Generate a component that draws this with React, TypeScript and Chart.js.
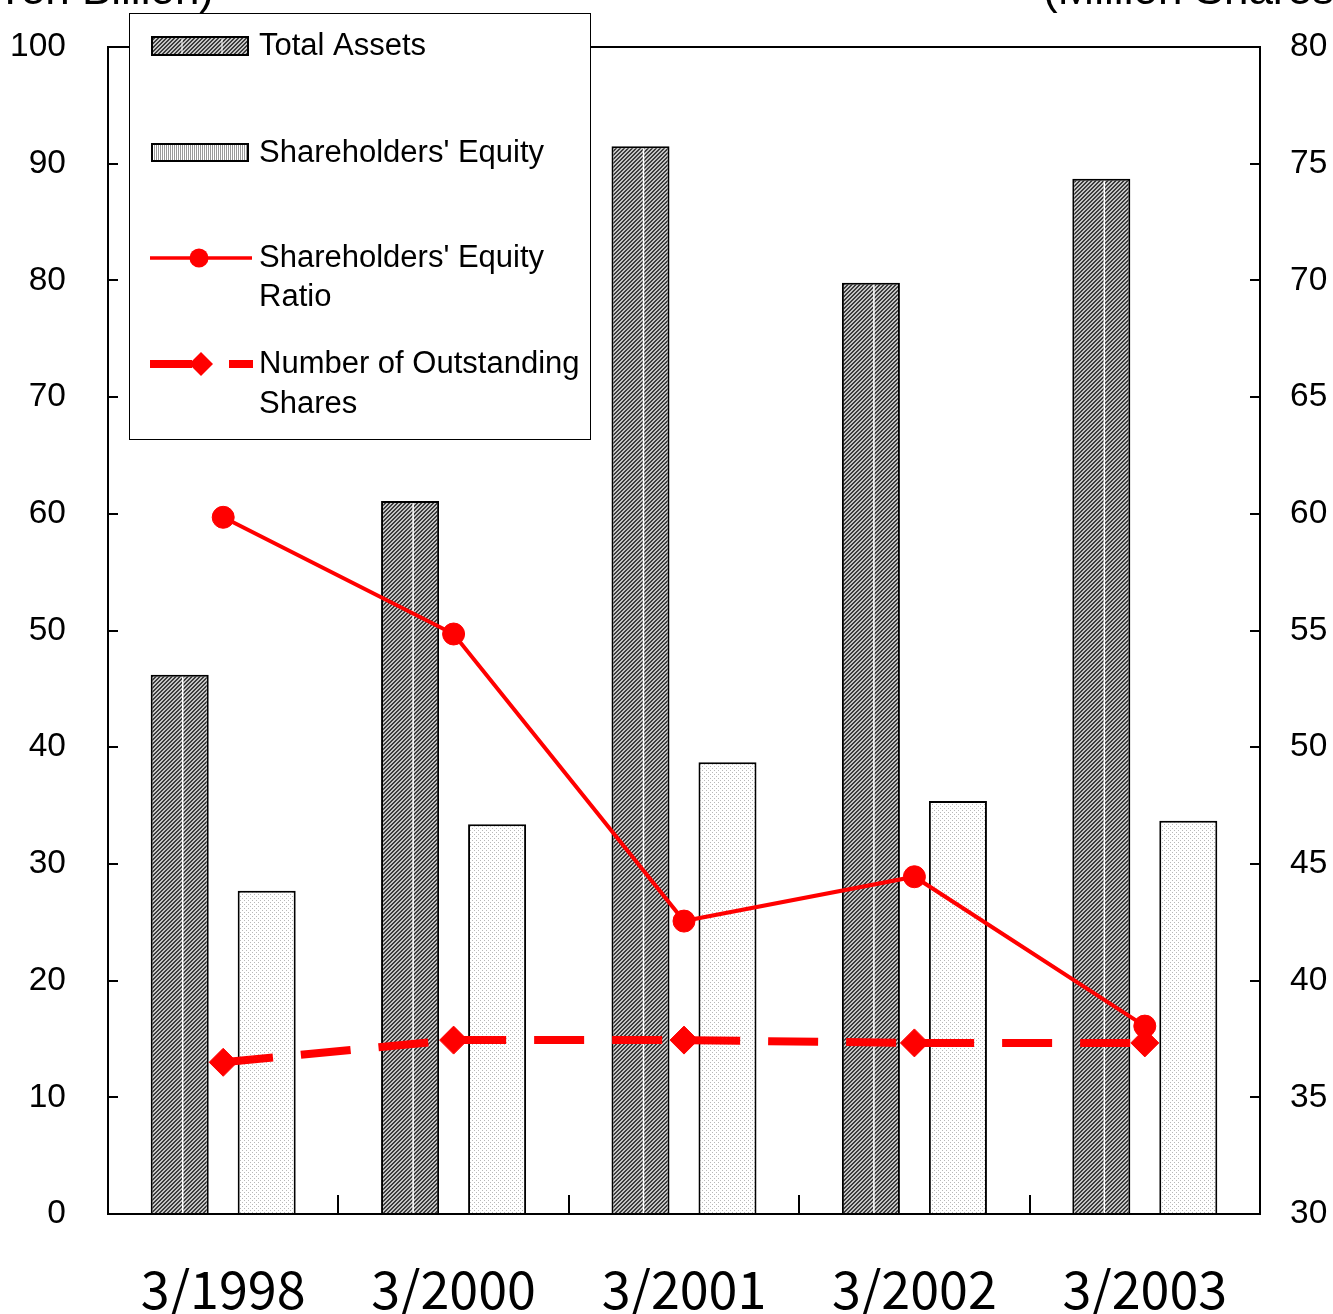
import React, { useEffect, useRef } from "react";
import { Chart, registerables } from "chart.js";

Chart.register(...registerables);

const categories = ["3/1998", "3/2000", "3/2001", "3/2002", "3/2003"];
const totalAssets = [46.2, 61.1, 91.5, 79.8, 88.7];
const shareholdersEquity = [27.7, 33.4, 38.7, 35.4, 33.7];
const equityRatio = [59.7, 49.7, 25.1, 28.9, 16.1];
const outstandingShares = [36.5, 37.45, 37.45, 37.33, 37.33];

const leftAxis = { min: 0, max: 100, step: 10 };
const rightAxis = { min: 30, max: 80, step: 5 };

const leftTitle = "(Yen Billion)";
const rightTitle = "(Million Shares)";
const legendLabels = {
  assets: ["Total Assets"],
  equity: ["Shareholders' Equity"],
  ratio: ["Shareholders' Equity", "Ratio"],
  shares: ["Number of Outstanding", "Shares"],
};

const TEXT_FONT = "'Liberation Sans', Arial, sans-serif";

function makePattern(size: number, draw: (c: CanvasRenderingContext2D) => void): CanvasPattern {
  const cv = document.createElement("canvas");
  cv.width = size;
  cv.height = size;
  const c = cv.getContext("2d")!;
  draw(c);
  const ctx = document.createElement("canvas").getContext("2d")!;
  return ctx.createPattern(cv, "repeat")!;
}

export default function App() {
  const ref = useRef<HTMLCanvasElement | null>(null);

  useEffect(() => {
    document.body.style.margin = "0";
    const canvas = ref.current;
    if (!canvas) return;

    const assetsPattern = makePattern(4, (c) => {
      c.fillStyle = "#c4c4c4";
      c.fillRect(0, 0, 4, 4);
      c.fillStyle = "#3c3c3c";
      for (let x = 0; x < 4; x++) {
        for (let y = 0; y < 4; y++) {
          const s = (x + y) % 4;
          if (s === 3 || s === 0) c.fillRect(x, y, 1, 1);
        }
      }
    });
    const equityPattern = makePattern(4, (c) => {
      c.fillStyle = "#ffffff";
      c.fillRect(0, 0, 4, 4);
      c.fillStyle = "#b8b8b8";
      c.fillRect(0, 0, 1, 1);
      c.fillRect(2, 2, 1, 1);
    });
    const stripePattern = makePattern(4, (c) => {
      c.fillStyle = "#ffffff";
      c.fillRect(0, 0, 4, 4);
      c.fillStyle = "#9a9a9a";
      c.fillRect(0, 0, 1, 4);
      c.fillRect(2, 0, 1, 4);
    });

    const framePlugin = {
      id: "framePlugin",
      afterDatasetDraw(chart: any, args: any) {
        if (args.index !== 0) return;
        const ctx = chart.ctx as CanvasRenderingContext2D;
        const meta = chart.getDatasetMeta(0);
        ctx.save();
        ctx.strokeStyle = "#ffffff";
        ctx.lineWidth = 1.5;
        meta.data.forEach((bar: any) => {
          const p = bar.getProps(["x", "y", "base"], true);
          ctx.beginPath();
          ctx.moveTo(p.x + 3, p.y + 2);
          ctx.lineTo(p.x + 3, p.base);
          ctx.stroke();
        });
        ctx.restore();
      },
      afterDraw(chart: any) {
        const ctx = chart.ctx as CanvasRenderingContext2D;
        const a = chart.chartArea;
        const yL = chart.scales.y;
        const yR = chart.scales.y1;
        const xS = chart.scales.x;
        ctx.save();
        // plot frame
        ctx.strokeStyle = "#000";
        ctx.lineWidth = 2;
        ctx.strokeRect(a.left, a.top, a.right - a.left, a.bottom - a.top);
        // ticks (inside)
        ctx.beginPath();
        for (let v = leftAxis.min; v <= leftAxis.max; v += leftAxis.step) {
          const py = Math.round(yL.getPixelForValue(v));
          ctx.moveTo(a.left, py);
          ctx.lineTo(a.left + 10, py);
        }
        for (let v = rightAxis.min; v <= rightAxis.max; v += rightAxis.step) {
          const py = Math.round(yR.getPixelForValue(v));
          ctx.moveTo(a.right, py);
          ctx.lineTo(a.right - 10, py);
        }
        const cw = (a.right - a.left) / categories.length;
        for (let i = 0; i < categories.length - 1; i++) {
          const px = Math.round(xS.getPixelForValue(i) + cw / 2);
          ctx.moveTo(px, a.bottom);
          ctx.lineTo(px, a.bottom - 19);
        }
        ctx.stroke();

        // axis unit titles (partially clipped at top like the reference)
        ctx.fillStyle = "#000";
        ctx.font = `44px ${TEXT_FONT}`;
        ctx.textBaseline = "alphabetic";
        ctx.textAlign = "right";
        ctx.fillText(leftTitle, 214, 4);
        ctx.textAlign = "left";
        ctx.fillText(rightTitle, 1043, 4);

        // legend box
        const lx = 129, ly = 13, lw = 461, lh = 426;
        ctx.fillStyle = "#fff";
        ctx.fillRect(lx, ly, lw, lh);
        ctx.strokeStyle = "#000";
        ctx.lineWidth = 1;
        ctx.strokeRect(lx + 0.5, ly + 0.5, lw, lh);

        // swatch 1
        ctx.fillStyle = assetsPattern;
        ctx.fillRect(152, 37, 96, 18);
        ctx.strokeStyle = "#fff";
        ctx.lineWidth = 1;
        ctx.beginPath();
        ctx.moveTo(182, 38); ctx.lineTo(182, 54);
        ctx.moveTo(222, 38); ctx.lineTo(222, 54);
        ctx.stroke();
        ctx.strokeStyle = "#000";
        ctx.lineWidth = 2;
        ctx.strokeRect(152, 37, 96, 18);

        // swatch 2
        ctx.fillStyle = stripePattern;
        ctx.fillRect(152, 144, 96, 17);
        ctx.strokeStyle = "#000";
        ctx.lineWidth = 2;
        ctx.strokeRect(152, 144, 96, 17);

        // ratio line
        ctx.strokeStyle = "#ff0000";
        ctx.fillStyle = "#ff0000";
        ctx.lineWidth = 3.5;
        ctx.beginPath();
        ctx.moveTo(150, 258); ctx.lineTo(252, 258);
        ctx.stroke();
        ctx.beginPath();
        ctx.arc(199, 258, 9.5, 0, Math.PI * 2);
        ctx.fill();

        // shares line
        ctx.lineWidth = 8;
        ctx.beginPath();
        ctx.moveTo(150, 364); ctx.lineTo(192, 364);
        ctx.moveTo(229, 364); ctx.lineTo(253, 364);
        ctx.stroke();
        ctx.beginPath();
        ctx.moveTo(201, 352); ctx.lineTo(213, 364); ctx.lineTo(201, 376); ctx.lineTo(189, 364);
        ctx.closePath();
        ctx.fill();

        // legend texts
        ctx.fillStyle = "#000";
        ctx.font = `31px ${TEXT_FONT}`;
        ctx.textAlign = "left";
        ctx.textBaseline = "middle";
        ctx.fillText(legendLabels.assets[0], 259, 46);
        ctx.fillText(legendLabels.equity[0], 259, 153);
        ctx.fillText(legendLabels.ratio[0], 259, 258);
        ctx.fillText(legendLabels.ratio[1], 259, 297);
        ctx.fillText(legendLabels.shares[0], 259, 364);
        ctx.fillText(legendLabels.shares[1], 259, 404);
        ctx.restore();
      },
    };

    const chart = new Chart(canvas, {
      type: "bar",
      data: {
        labels: categories,
        datasets: [
          {
            type: "bar",
            label: "Total Assets",
            data: totalAssets,
            backgroundColor: assetsPattern as any,
            borderColor: "#000",
            borderWidth: 2,
            yAxisID: "y",
            order: 2,
            categoryPercentage: 0.755,
            barPercentage: 0.667,
          },
          {
            type: "bar",
            label: "Shareholders' Equity",
            data: shareholdersEquity,
            backgroundColor: equityPattern as any,
            borderColor: "#000",
            borderWidth: 2,
            yAxisID: "y",
            order: 2,
            categoryPercentage: 0.755,
            barPercentage: 0.667,
          },
          {
            type: "line",
            label: "Shareholders' Equity Ratio",
            data: equityRatio,
            borderColor: "#ff0000",
            backgroundColor: "#ff0000",
            borderWidth: 4,
            pointRadius: 11,
            pointBorderWidth: 1,
            pointStyle: "circle",
            yAxisID: "y",
            order: 1,
            tension: 0,
          },
          {
            type: "line",
            label: "Number of Outstanding Shares",
            data: outstandingShares,
            borderColor: "#ff0000",
            backgroundColor: "#ff0000",
            borderWidth: 8,
            borderDash: [50, 28],
            pointRadius: 14,
            pointBorderWidth: 1,
            pointStyle: "rectRot",
            yAxisID: "y1",
            order: 1,
            tension: 0,
          },
        ],
      },
      options: {
        animation: false,
        responsive: true,
        maintainAspectRatio: false,
        devicePixelRatio: 1,
        layout: { padding: { top: 47, left: 0, right: 0, bottom: 0 } },
        plugins: {
          legend: { display: false },
          tooltip: { enabled: false },
          title: { display: false },
        },
        scales: {
          x: {
            type: "category",
            offset: true,
            grid: { display: false, drawTicks: false },
            border: { display: false },
            ticks: {
              color: "#000",
              padding: 44,
              maxRotation: 0,
              autoSkip: false,
              font: { family: "'Noto Sans CJK JP'", size: 52 },
            },
            afterFit: (s: any) => {
              s.height = 100;
              s.paddingLeft = 0;
              s.paddingRight = 0;
            },
          },
          y: {
            type: "linear",
            position: "left",
            min: leftAxis.min,
            max: leftAxis.max,
            grid: { display: false, drawTicks: false },
            border: { display: false },
            ticks: {
              stepSize: leftAxis.step,
              color: "#000",
              padding: 42,
              font: { family: TEXT_FONT, size: 33.5 },
            },
            afterFit: (s: any) => {
              s.width = 108;
              s.paddingTop = 0;
              s.paddingBottom = 0;
            },
          },
          y1: {
            type: "linear",
            position: "right",
            min: rightAxis.min,
            max: rightAxis.max,
            grid: { display: false, drawTicks: false },
            border: { display: false },
            ticks: {
              stepSize: rightAxis.step,
              color: "#000",
              padding: 30,
              font: { family: TEXT_FONT, size: 33.5 },
            },
            afterFit: (s: any) => {
              s.width = 73;
              s.paddingTop = 0;
              s.paddingBottom = 0;
            },
          },
        },
      },
      plugins: [framePlugin],
    });

    return () => {
      chart.destroy();
    };
  }, []);

  return (
    <div style={{ width: 1333, height: 1314, position: "relative", background: "#fff" }}>
      <canvas ref={ref} />
    </div>
  );
}
